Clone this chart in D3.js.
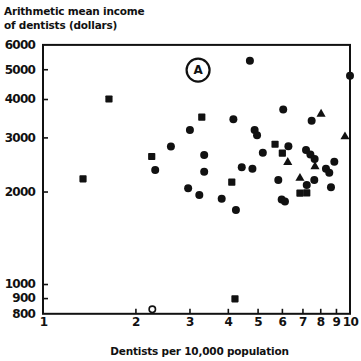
<!DOCTYPE html>
<html>
<head>
<meta charset="utf-8">
<script src="https://cdn.jsdelivr.net/npm/d3@7"></script>
<style>
  html, body { margin: 0; padding: 0; background: #fff; }
  svg text { font-family: "DejaVu Sans", sans-serif; font-weight: bold; fill: #111; }
</style>
</head>
<body>
<script>
// Dentists per 10,000 population vs. mean income, log–log
const filledCircles = [
  [3.01, 3170], [2.61, 2800], [2.32, 2350], [2.97, 2050], [3.23, 1950],
  [4.17, 3440], [4.89, 3170], [4.98, 3050], [3.35, 2630], [3.35, 2320],
  [4.44, 2400], [4.81, 2370], [3.82, 1895], [4.25, 1740], [6.06, 3700],
  [7.50, 3400], [6.30, 2810], [5.20, 2675], [7.19, 2730], [7.43, 2640],
  [7.67, 2550], [8.89, 2500], [8.35, 2370], [8.56, 2300], [5.84, 2180],
  [7.65, 2180], [7.23, 2100], [8.67, 2065], [5.99, 1885], [6.14, 1855],
  [4.72, 5330], [10.0, 4765]
];
const filledSquares = [
  [1.35, 2200], [1.64, 4000], [2.26, 2600], [3.29, 3490], [4.12, 2145],
  [5.70, 2850], [6.02, 2665], [6.87, 1975], [7.23, 1980], [4.22, 895]
];
const filledTriangles = [
  [8.05, 3575], [9.63, 3015], [6.27, 2490], [7.69, 2410], [6.87, 2210]
];
const openCircles = [[2.27, 827]];
const markerA = { x: 3.20, y: 4970, label: "A" };

const xTicks = [1, 2, 3, 4, 5, 6, 7, 8, 9, 10];
const yTicks = [6000, 5000, 4000, 3000, 2000, 1000, 900, 800];
const titleLines = ["Arithmetic mean income", "of dentists (dollars)"];
const xTitle = "Dentists per 10,000 population";

const W = 361, H = 361;
const svg = d3.select("body").append("svg").attr("width", W).attr("height", H);

const x = d3.scaleLog().domain([1, 10]).range([43, 350]);
const y = d3.scaleLog().domain([800, 6000]).range([313.8, 44.9]);

// frame
const [x0, x1] = x.range(), [y0, y1] = y.range();
svg.append("rect")
  .attr("x", x0).attr("y", y1).attr("width", x1 - x0).attr("height", y0 - y1)
  .attr("fill", "none").attr("stroke", "#111").attr("stroke-width", 2);

// axes with inward ticks
const xAxis = d3.axisBottom(x).tickValues(xTicks).tickSizeInner(-5).tickSizeOuter(0)
  .tickPadding(4).tickFormat(d3.format("d"));
const gx = svg.append("g").attr("transform", `translate(0,${y0})`).call(xAxis);
gx.select(".domain").remove();
gx.selectAll(".tick line").attr("stroke", "#111").attr("stroke-width", 1.6)
  .filter(d => d === 1 || d === 10).remove();
gx.selectAll(".tick text").attr("font-size", 12).attr("font-weight", "bold")
  .attr("font-family", "DejaVu Sans").attr("fill", "#111").attr("letter-spacing", -0.6);

const yAxis = d3.axisLeft(y).tickValues(yTicks).tickSizeInner(-5).tickSizeOuter(0)
  .tickPadding(8).tickFormat(d3.format("d"));
const gy = svg.append("g").attr("transform", `translate(${x0},0)`).call(yAxis);
gy.select(".domain").remove();
gy.selectAll(".tick line").attr("stroke", "#111").attr("stroke-width", 1.6)
  .filter(d => d === 6000 || d === 800).remove();
gy.selectAll(".tick text").attr("font-size", 12).attr("font-weight", "bold")
  .attr("font-family", "DejaVu Sans").attr("fill", "#111").attr("letter-spacing", -0.8);

// titles
svg.selectAll(".ytitle").data(titleLines).enter().append("text")
  .attr("x", 4).attr("y", (d, i) => 15 + i * 14)
  .attr("font-size", 10.5).attr("letter-spacing", -0.2).text(d => d);
svg.append("text").attr("x", (x0 + x1) / 2 + 3).attr("y", 355)
  .attr("text-anchor", "middle").attr("font-size", 10.5).attr("letter-spacing", -0.2)
  .text(xTitle);

// markers
const pts = svg.append("g");
pts.selectAll("circle.f").data(filledCircles).enter().append("circle")
  .attr("cx", d => x(d[0])).attr("cy", d => y(d[1])).attr("r", 4).attr("fill", "#111");
pts.selectAll("rect.s").data(filledSquares).enter().append("rect")
  .attr("x", d => x(d[0]) - 3.6).attr("y", d => y(d[1]) - 3.6)
  .attr("width", 7.2).attr("height", 7.2).attr("rx", 0.8).attr("fill", "#111");
const tri = d3.symbol().type(d3.symbolTriangle).size(36);
pts.selectAll("path.t").data(filledTriangles).enter().append("path")
  .attr("d", tri).attr("transform", d => `translate(${x(d[0])},${y(d[1])})`).attr("fill", "#111");
pts.selectAll("circle.o").data(openCircles).enter().append("circle")
  .attr("cx", d => x(d[0])).attr("cy", d => y(d[1])).attr("r", 3.2)
  .attr("fill", "#fff").attr("stroke", "#111").attr("stroke-width", 1.6);

// circled letter
const ga = svg.append("g").attr("transform", `translate(${x(markerA.x)},${y(markerA.y)})`);
ga.append("circle").attr("r", 11.5).attr("fill", "none").attr("stroke", "#111").attr("stroke-width", 2.2);
ga.append("text").attr("text-anchor", "middle").attr("dy", "0.36em")
  .attr("font-size", 12).text(markerA.label);
</script>
</body>
</html>
